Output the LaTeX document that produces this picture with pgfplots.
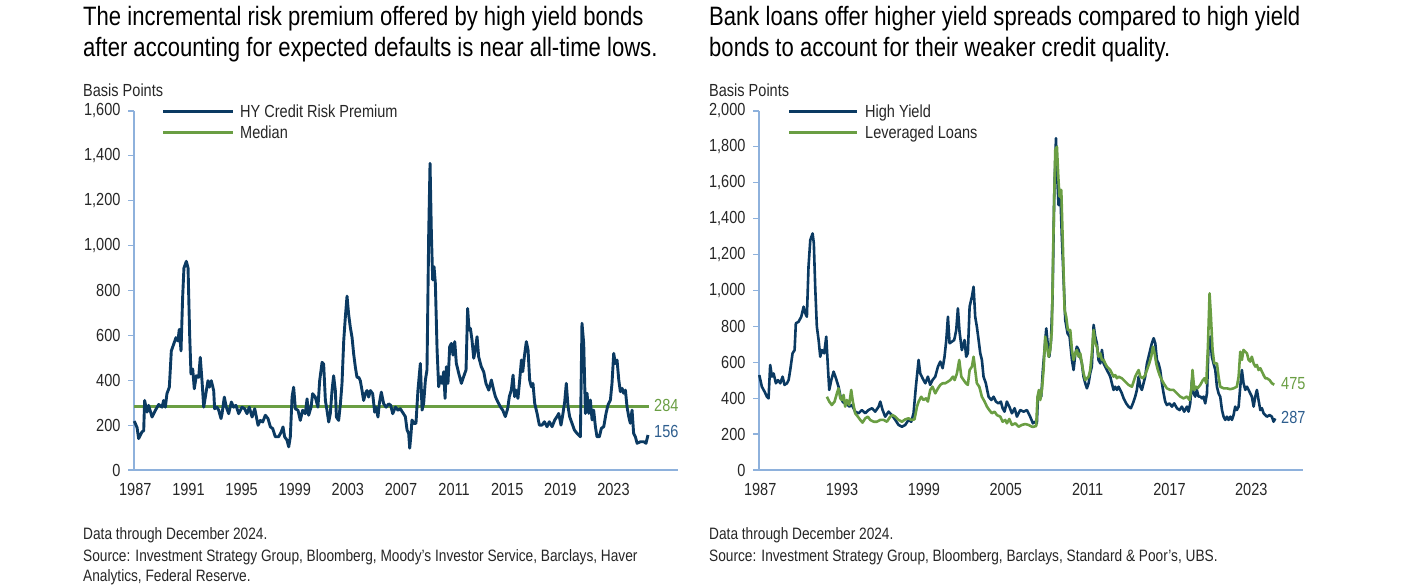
\documentclass[border=0pt]{standalone}
\usepackage{fontspec}
\setmainfont{Liberation Sans}[FakeStretch=0.83]
\usepackage{pgfplots}
\pgfplotsset{compat=1.18}
\definecolor{navy}{HTML}{0B3A62}
\definecolor{hgreen}{HTML}{6A9E43}
\definecolor{axblue}{HTML}{8EB1DC}
\definecolor{lblblue}{HTML}{2E5E8E}
\definecolor{txt}{HTML}{262626}
\newcommand\tfont{\fontsize{26.6}{31}\selectfont}
\newcommand\lfont{\fontsize{17.5}{21}\selectfont}
\newcommand\ffont{\fontsize{16.5}{21.5}\selectfont}
\pgfplotsset{
 mystyle/.style={
  scale only axis, width=544pt, height=359pt, anchor=south west,
  axis x line*=bottom, axis y line*=left,
  axis line style={axblue, line width=1.4pt, -},
  ymin=0,
  tick align=outside,
  major tick length=6pt,
  ytick style={axblue, line width=1.2pt},
  xtick style={draw=none},
  tick label style={font=\lfont, text=txt},
  /pgf/number format/assume math mode=true,
  x tick label style={/pgf/number format/1000 sep={}, yshift=-4pt},
  y tick label style={/pgf/number format/1000 sep={,}, xshift=-4pt},
  scaled ticks=false,
  clip=false,
 }
}
\pgfplotstableread{
x y
1986.92 218
1987.13 189
1987.25 140
1987.50 170
1987.63 175
1987.70 310
1987.88 258
1988.00 288
1988.26 236
1988.51 266
1988.76 292
1989.01 280
1989.13 310
1989.26 280
1989.38 340
1989.56 369
1989.71 531
1989.89 561
1990.06 590
1990.21 575
1990.31 627
1990.44 531
1990.56 767
1990.66 900
1990.84 930
1990.97 900
1991.09 605
1991.19 428
1991.32 450
1991.44 362
1991.59 420
1991.77 413
1991.89 502
1992.02 398
1992.15 280
1992.27 325
1992.47 398
1992.57 369
1992.72 398
1992.90 354
1992.97 273
1993.15 280
1993.28 266
1993.45 229
1993.53 251
1993.70 325
1993.85 280
1994.03 251
1994.23 303
1994.40 280
1994.58 288
1994.78 251
1995.03 280
1995.23 273
1995.41 251
1995.58 280
1995.79 236
1995.99 273
1996.24 199
1996.41 221
1996.59 214
1996.79 244
1996.99 229
1997.17 192
1997.34 185
1997.54 148
1997.79 148
1997.99 170
1998.12 192
1998.24 148
1998.42 133
1998.55 103
1998.67 148
1998.80 325
1998.92 369
1999.05 273
1999.25 266
1999.42 221
1999.60 266
1999.80 251
1999.93 317
2000.05 244
2000.23 280
2000.35 340
2000.55 325
2000.75 280
2000.88 398
2001.06 480
2001.18 472
2001.31 310
2001.43 266
2001.56 214
2001.68 251
2001.81 354
2001.93 420
2002.06 354
2002.14 236
2002.31 221
2002.44 295
2002.56 384
2002.69 575
2002.81 679
2002.94 775
2003.06 694
2003.19 635
2003.32 590
2003.44 517
2003.57 457
2003.69 413
2003.82 413
2003.94 398
2004.07 354
2004.19 310
2004.32 340
2004.44 354
2004.57 325
2004.70 354
2004.87 340
2005.02 258
2005.12 280
2005.27 236
2005.37 295
2005.52 347
2005.70 295
2005.88 280
2006.08 295
2006.23 288
2006.38 251
2006.58 280
2006.78 266
2006.95 273
2007.33 238
2007.46 178
2007.58 163
2007.66 97
2007.76 163
2007.83 223
2007.96 208
2008.13 208
2008.28 356
2008.46 475
2008.59 267
2008.71 297
2008.84 401
2008.96 446
2009.09 1055
2009.19 1367
2009.29 1055
2009.39 847
2009.49 906
2009.59 832
2009.72 535
2009.84 371
2009.97 416
2010.09 386
2010.22 438
2010.32 319
2010.42 460
2010.54 386
2010.67 550
2010.80 564
2010.92 512
2011.05 572
2011.17 475
2011.35 431
2011.55 386
2011.72 416
2011.90 446
2012.02 720
2012.13 624
2012.23 631
2012.35 579
2012.48 498
2012.60 535
2012.73 594
2012.85 505
2013.05 460
2013.23 438
2013.40 386
2013.61 356
2013.81 401
2013.98 356
2014.11 327
2014.28 305
2014.48 282
2014.66 267
2014.86 238
2015.04 275
2015.16 327
2015.31 356
2015.44 423
2015.56 327
2015.66 356
2015.81 319
2015.94 401
2016.07 490
2016.17 438
2016.29 505
2016.44 572
2016.57 535
2016.69 401
2016.82 371
2016.94 386
2017.07 297
2017.25 252
2017.42 200
2017.62 200
2017.80 215
2018.00 193
2018.17 215
2018.38 193
2018.58 223
2018.75 238
2018.88 252
2019.05 200
2019.20 252
2019.33 305
2019.45 386
2019.58 282
2019.70 238
2019.88 208
2020.06 178
2020.26 163
2020.38 156
2020.51 148
2020.63 654
2020.76 564
2020.89 252
2021.01 342
2021.14 252
2021.26 312
2021.39 223
2021.51 267
2021.64 193
2021.76 148
2021.94 148
2022.09 186
2022.27 193
2022.44 252
2022.59 290
2022.77 312
2022.89 386
2023.02 520
2023.14 475
2023.27 490
2023.40 401
2023.52 349
2023.65 364
2023.77 342
2023.90 356
2024.02 282
2024.15 238
2024.27 208
2024.40 267
2024.52 163
2024.65 148
2024.78 119
2025.03 126
2025.28 126
2025.45 119
2025.60 156
}\riskprem
\pgfplotstableread{
x y
1986.93 529
1987.12 464
1987.32 436
1987.49 408
1987.61 399
1987.73 585
1987.86 520
1987.98 538
1988.15 483
1988.30 501
1988.47 483
1988.64 520
1988.78 474
1988.96 483
1989.08 501
1989.20 557
1989.37 650
1989.52 668
1989.61 817
1989.81 826
1990.01 854
1990.18 910
1990.30 873
1990.42 854
1990.54 1133
1990.67 1281
1990.84 1318
1990.93 1263
1991.03 1021
1991.15 799
1991.28 724
1991.40 631
1991.52 668
1991.69 650
1991.84 743
1991.96 576
1992.06 446
1992.21 501
1992.38 548
1992.55 511
1992.74 464
1992.89 408
1993.04 381
1993.18 371
1993.35 371
1993.52 353
1993.72 362
1993.96 325
1994.21 316
1994.45 334
1994.70 316
1994.94 334
1995.19 344
1995.43 325
1995.68 353
1995.80 381
1995.97 334
1996.16 297
1996.41 325
1996.65 306
1996.90 279
1997.14 251
1997.39 241
1997.63 251
1997.87 279
1998.07 269
1998.24 316
1998.41 464
1998.61 613
1998.73 538
1998.90 511
1999.10 483
1999.29 520
1999.46 474
1999.63 501
1999.83 520
2000.03 576
2000.20 604
2000.37 567
2000.51 631
2000.64 724
2000.76 854
2000.88 706
2001.05 715
2001.22 724
2001.37 780
2001.49 901
2001.61 771
2001.78 668
2001.98 724
2002.10 631
2002.22 650
2002.35 910
2002.52 966
2002.64 1021
2002.76 854
2002.88 799
2003.01 724
2003.13 650
2003.25 613
2003.37 520
2003.54 483
2003.74 408
2003.94 390
2004.11 408
2004.28 381
2004.47 371
2004.64 381
2004.77 344
2004.91 325
2005.08 381
2005.26 353
2005.45 316
2005.65 344
2005.82 297
2006.06 334
2006.31 325
2006.55 334
2006.79 297
2006.99 260
2007.16 269
2007.28 260
2007.36 409
2007.48 427
2007.60 409
2007.72 557
2007.84 669
2007.97 789
2008.06 715
2008.19 631
2008.31 715
2008.43 966
2008.55 1523
2008.68 1848
2008.77 1634
2008.87 1476
2008.99 1560
2009.11 1300
2009.24 1058
2009.36 836
2009.53 761
2009.68 743
2009.85 613
2009.97 557
2010.09 641
2010.21 687
2010.34 669
2010.46 631
2010.58 594
2010.70 520
2010.83 483
2010.95 455
2011.07 483
2011.19 539
2011.31 576
2011.44 808
2011.56 743
2011.68 706
2011.80 613
2011.93 594
2012.05 669
2012.17 594
2012.29 576
2012.41 557
2012.54 539
2012.66 520
2012.78 483
2012.90 446
2013.02 464
2013.15 446
2013.27 464
2013.39 446
2013.51 427
2013.64 399
2013.83 371
2014.00 353
2014.17 344
2014.32 371
2014.49 409
2014.61 446
2014.74 520
2014.86 464
2014.98 446
2015.10 483
2015.22 520
2015.35 594
2015.47 631
2015.59 669
2015.71 706
2015.84 734
2015.96 706
2016.08 613
2016.20 594
2016.32 557
2016.45 483
2016.57 427
2016.69 381
2016.81 362
2017.01 371
2017.18 353
2017.35 371
2017.55 344
2017.74 334
2017.91 353
2018.08 325
2018.28 353
2018.40 325
2018.52 371
2018.65 501
2018.77 427
2018.89 409
2019.01 446
2019.13 409
2019.26 409
2019.38 399
2019.50 409
2019.62 371
2019.75 427
2019.87 706
2019.99 743
2020.11 631
2020.23 594
2020.36 557
2020.48 464
2020.60 427
2020.72 409
2020.85 334
2020.97 297
2021.09 279
2021.21 297
2021.33 279
2021.46 297
2021.58 279
2021.70 306
2021.82 353
2021.94 334
2022.07 353
2022.19 464
2022.31 557
2022.43 483
2022.56 446
2022.68 464
2022.80 446
2022.92 427
2023.04 409
2023.17 353
2023.29 409
2023.41 446
2023.53 390
2023.66 334
2023.78 344
2023.90 316
2024.14 297
2024.34 306
2024.51 297
2024.63 269
2024.76 287
}\highyield
\pgfplotstableread{
x y
1991.89 408
1992.06 381
1992.25 362
1992.45 381
1992.62 427
1992.74 455
1992.87 399
1992.99 390
1993.11 418
1993.23 353
1993.35 390
1993.52 362
1993.67 446
1993.79 381
1993.96 316
1994.16 297
1994.33 279
1994.50 264
1994.70 288
1994.89 297
1995.06 279
1995.31 269
1995.55 269
1995.80 279
1996.04 279
1996.29 269
1996.53 297
1996.70 306
1996.90 297
1997.14 279
1997.39 269
1997.63 282
1997.87 288
1998.07 279
1998.31 282
1998.49 353
1998.61 381
1998.80 408
1998.97 390
1999.15 399
1999.29 381
1999.46 446
1999.63 464
1999.83 427
2000.03 455
2000.20 474
2000.37 483
2000.56 483
2000.76 492
2000.93 501
2001.13 520
2001.25 501
2001.42 538
2001.59 613
2001.74 520
2001.91 501
2002.08 483
2002.22 474
2002.35 557
2002.52 576
2002.64 631
2002.76 557
2002.88 483
2003.06 464
2003.25 408
2003.45 381
2003.62 353
2003.79 334
2003.98 316
2004.18 325
2004.35 306
2004.60 297
2004.77 269
2004.96 279
2005.08 260
2005.26 284
2005.45 251
2005.70 260
2005.94 241
2006.18 251
2006.43 256
2006.67 251
2006.92 241
2007.04 241
2007.23 245
2007.33 409
2007.43 446
2007.53 390
2007.65 446
2007.77 557
2007.89 743
2008.02 687
2008.14 631
2008.26 669
2008.38 780
2008.50 1337
2008.63 1783
2008.75 1801
2008.85 1634
2008.94 1523
2009.07 1560
2009.19 1244
2009.31 891
2009.43 854
2009.55 780
2009.73 780
2009.85 669
2009.97 613
2010.09 650
2010.21 669
2010.34 631
2010.46 650
2010.58 594
2010.70 539
2010.83 501
2010.95 511
2011.07 520
2011.19 557
2011.31 650
2011.44 780
2011.56 706
2011.68 687
2011.80 631
2011.93 650
2012.05 613
2012.17 613
2012.29 594
2012.41 576
2012.54 567
2012.66 557
2012.78 539
2012.90 520
2013.02 529
2013.15 511
2013.27 520
2013.51 511
2013.76 492
2014.00 474
2014.25 464
2014.49 520
2014.61 539
2014.74 557
2014.86 520
2015.05 511
2015.22 529
2015.35 557
2015.52 594
2015.66 631
2015.79 687
2015.91 650
2016.03 594
2016.15 557
2016.32 520
2016.57 483
2016.81 455
2017.06 446
2017.30 446
2017.55 427
2017.79 409
2018.03 399
2018.28 409
2018.47 390
2018.60 446
2018.69 557
2018.82 446
2018.94 464
2019.06 455
2019.26 474
2019.45 501
2019.57 511
2019.70 483
2019.82 687
2019.94 984
2020.04 854
2020.16 669
2020.28 594
2020.48 594
2020.60 520
2020.72 464
2020.97 455
2021.21 455
2021.46 450
2021.70 455
2021.94 464
2022.07 520
2022.19 659
2022.31 613
2022.43 669
2022.56 659
2022.68 650
2022.80 613
2022.92 604
2023.04 631
2023.17 594
2023.29 576
2023.41 585
2023.53 557
2023.66 567
2023.78 548
2023.90 529
2024.02 511
2024.14 511
2024.34 501
2024.51 483
2024.68 475
}\levloans
\begin{document}
\begin{tikzpicture}
\path[use as bounding box] (0pt,0pt) rectangle (1401pt,585pt);
% titles
\node[anchor=base west, inner sep=0, font=\tfont, text=black] at (83pt,559pt) {The incremental risk premium offered by high yield bonds};
\node[anchor=base west, inner sep=0, font=\tfont, text=black] at (83pt,528pt) {after accounting for expected defaults is near all-time lows.};
\node[anchor=base west, inner sep=0, font=\tfont, text=black] at (709pt,559pt) {Bank loans offer higher yield spreads compared to high yield};
\node[anchor=base west, inner sep=0, font=\tfont, text=black] at (709pt,528pt) {bonds to account for their weaker credit quality.};
% left axis
\begin{axis}[mystyle, at={(134pt,115pt)}, xmin=1986.9, xmax=2027.86, ymax=1600,
  xtick={1987,1991,...,2023}, ytick={0,200,...,1600}]
\addplot[hgreen, line width=2.6pt] coordinates {(1986.9,284) (2025.65,284)};
\addplot[navy, line width=2.9pt, line join=round] table {\riskprem};
\end{axis}
% right axis
\begin{axis}[mystyle, at={(759pt,115pt)}, xmin=1986.91, xmax=2026.79, ymax=2000,
  xtick={1987,1993,...,2023}, ytick={0,200,...,2000}]
\addplot[navy, line width=2.6pt, line join=round] table {\highyield};
\addplot[hgreen, line width=2.6pt, line join=round] table {\levloans};
\end{axis}
% axis titles
\node[anchor=base west, inner sep=0, font=\lfont, text=txt] at (83pt,488pt) {Basis Points};
\node[anchor=base west, inner sep=0, font=\lfont, text=txt] at (709pt,488pt) {Basis Points};
% legends
\draw[navy, line width=3pt] (163pt,473pt) -- (233pt,473pt);
\node[anchor=base west, inner sep=0, font=\lfont, text=txt] at (240pt,467pt) {HY Credit Risk Premium};
\draw[hgreen, line width=3pt] (163pt,452pt) -- (233pt,452pt);
\node[anchor=base west, inner sep=0, font=\lfont, text=txt] at (240pt,446pt) {Median};
\draw[navy, line width=3pt] (789pt,473pt) -- (857pt,473pt);
\node[anchor=base west, inner sep=0, font=\lfont, text=txt] at (865pt,467pt) {High Yield};
\draw[hgreen, line width=3pt] (789pt,452pt) -- (857pt,452pt);
\node[anchor=base west, inner sep=0, font=\lfont, text=txt] at (865pt,446pt) {Leveraged Loans};
% end labels
\node[anchor=base west, inner sep=0, font=\lfont, text=hgreen] at (654pt,173pt) {284};
\node[anchor=base west, inner sep=0, font=\lfont, text=lblblue] at (654pt,147pt) {156};
\node[anchor=base west, inner sep=0, font=\lfont, text=hgreen] at (1281pt,195pt) {475};
\node[anchor=base west, inner sep=0, font=\lfont, text=lblblue] at (1281pt,161pt) {287};
% footnotes
\node[anchor=base west, inner sep=0, font=\ffont, text=txt] at (83pt,45pt) {Data through December 2024.};
\node[anchor=base west, inner sep=0, font=\ffont, text=txt] at (83pt,23pt) {Source: Investment Strategy Group, Bloomberg, Moody’s Investor Service, Barclays, Haver};
\node[anchor=base west, inner sep=0, font=\ffont, text=txt] at (83pt,3pt) {Analytics, Federal Reserve.};
\node[anchor=base west, inner sep=0, font=\ffont, text=txt] at (709pt,45pt) {Data through December 2024.};
\node[anchor=base west, inner sep=0, font=\ffont, text=txt] at (709pt,23pt) {Source: Investment Strategy Group, Bloomberg, Barclays, Standard \& Poor’s, UBS.};
\end{tikzpicture}
\end{document}
